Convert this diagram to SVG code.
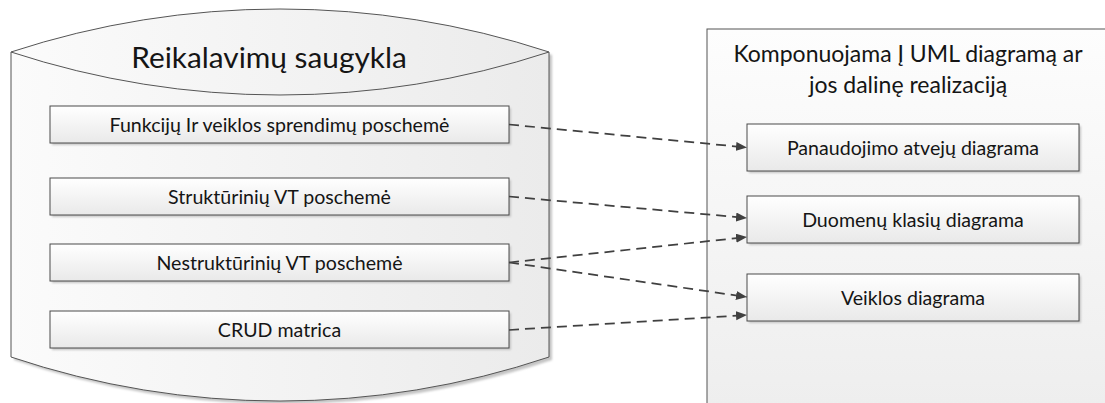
<svg xmlns="http://www.w3.org/2000/svg" width="1105" height="403" viewBox="0 0 1105 403">
  <style>
    .lbl { font-family: Lato, "Open Sans", "Liberation Sans", sans-serif; fill: #151515; text-anchor: middle; }
    .item { font-size: 19.6px; }
    .box { stroke: #4a4a4a; stroke-width: 1; fill: url(#boxGrad); }
    .shadow { fill: #c4c4c4; filter: url(#soft); }
    .link { fill: none; stroke: #404040; stroke-width: 1.75; stroke-dasharray: 10 6; marker-end: url(#arrow); }
  </style>
  <defs>
    <linearGradient id="boxGrad" x1="0" y1="0" x2="0" y2="1">
      <stop offset="0" stop-color="#ffffff"/>
      <stop offset="1" stop-color="#e9e9e9"/>
    </linearGradient>
    <linearGradient id="cylGrad" x1="0" y1="0" x2="1" y2="0">
      <stop offset="0" stop-color="#fbfbfb"/>
      <stop offset="1" stop-color="#ebebeb"/>
    </linearGradient>
    <linearGradient id="panelGrad" x1="0" y1="0" x2="0" y2="1">
      <stop offset="0" stop-color="#fdfdfd"/>
      <stop offset="1" stop-color="#ededed"/>
    </linearGradient>
    <filter id="soft" x="-5%" y="-5%" width="110%" height="110%">
      <feGaussianBlur stdDeviation="1"/>
    </filter>
    <marker id="arrow" markerUnits="userSpaceOnUse" markerWidth="12" markerHeight="10" refX="11" refY="4.5" orient="auto">
      <path d="M0,0 L11,4.5 L0,9 Z" fill="#404040"/>
    </marker>
  </defs>

  <!-- storage cylinder -->
  <g id="storage">
    <path class="shadow" transform="translate(3,3)" d="M11,52 A863,863 0 0 1 549,52 L549,357 A844,844 0 0 1 11,357 Z"/>
    <path d="M11,52 A863,863 0 0 1 549,52 L549,357 A844,844 0 0 1 11,357 Z" fill="url(#cylGrad)" stroke="#555" stroke-width="1"/>
    <path d="M11,52 A863,863 0 0 0 549,52" fill="none" stroke="#555" stroke-width="1"/>
    <text class="lbl" x="269" y="68" font-size="29.8">Reikalavimų saugykla</text>
  </g>

  <g id="n-funkciju">
    <rect class="shadow" x="52" y="108" width="459" height="37"/>
    <rect class="box" x="50" y="106" width="459" height="37"/>
    <text class="lbl item" x="279.5" y="131.5">Funkcijų Ir veiklos sprendimų poschemė</text>
  </g>
  <g id="n-strukturiniu">
    <rect class="shadow" x="52" y="180" width="459" height="37"/>
    <rect class="box" x="50" y="178" width="459" height="37"/>
    <text class="lbl item" x="279.5" y="203.5">Struktūrinių VT poschemė</text>
  </g>
  <g id="n-nestrukturiniu">
    <rect class="shadow" x="52" y="246" width="459" height="37"/>
    <rect class="box" x="50" y="244" width="459" height="37"/>
    <text class="lbl item" x="279.5" y="269.5">Nestruktūrinių VT poschemė</text>
  </g>
  <g id="n-crud">
    <rect class="shadow" x="52" y="313" width="459" height="37"/>
    <rect class="box" x="50" y="311" width="459" height="37"/>
    <text class="lbl item" x="279.5" y="336.5">CRUD matrica</text>
  </g>

  <!-- UML panel -->
  <g id="uml-panel">
    <rect x="707" y="29" width="420" height="400" fill="url(#panelGrad)" stroke="#555" stroke-width="1"/>
    <text class="lbl" x="908" y="62" font-size="23">Komponuojama Į UML diagramą ar</text>
    <text class="lbl" x="908" y="93" font-size="23">jos dalinę realizaciją</text>
  </g>

  <g id="n-panaudojimo">
    <rect class="shadow" x="749" y="126" width="332" height="47"/>
    <rect class="box" x="747" y="124" width="332" height="47"/>
    <text class="lbl item" x="913" y="155">Panaudojimo atvejų diagrama</text>
  </g>
  <g id="n-duomenu">
    <rect class="shadow" x="749" y="198" width="332" height="47"/>
    <rect class="box" x="747" y="196" width="332" height="47"/>
    <text class="lbl item" x="913" y="226.5">Duomenų klasių diagrama</text>
  </g>
  <g id="n-veiklos">
    <rect class="shadow" x="749" y="276" width="332" height="47"/>
    <rect class="box" x="747" y="274" width="332" height="47"/>
    <text class="lbl item" x="913" y="304.5">Veiklos diagrama</text>
  </g>

  <!-- dependency connectors -->
  <g id="connectors">
    <path class="link" d="M509,124.5 L747,147.5"/>
    <path class="link" d="M509,196.5 L747,218"/>
    <path class="link" d="M509,262.5 L747,237"/>
    <path class="link" d="M509,262.5 L747,297"/>
    <path class="link" d="M509,330 L747,315"/>
  </g>
</svg>
